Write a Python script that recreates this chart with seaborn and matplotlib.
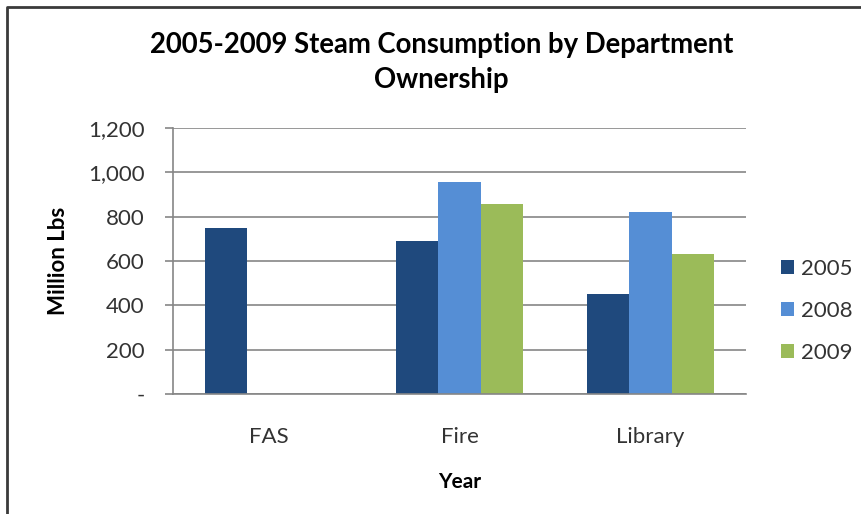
import matplotlib
matplotlib.use("Agg")
import matplotlib.pyplot as plt
from matplotlib.patches import Patch
from matplotlib.lines import Line2D
from matplotlib.ticker import FuncFormatter
import seaborn as sns
import pandas as pd

# Steam consumption (million lbs) by department and year
departments = ["FAS", "Fire", "Library"]
years = ["2005", "2008", "2009"]
consumption_2005 = [750, 690, 450]
consumption_2008 = [None, 955, 820]
consumption_2009 = [None, 855, 630]
colors = ["#1F497D", "#558ED5", "#9BBB59"]

rows = []
for year, series in zip(years, [consumption_2005, consumption_2008, consumption_2009]):
    for dept, val in zip(departments, series):
        if val is not None:
            rows.append({"Department": dept, "Year": year, "Value": val})
df = pd.DataFrame(rows)

sns.set_theme(style="white")
plt.rcParams["font.family"] = ["Lato", "DejaVu Sans"]

W, H = 862, 514
fig = plt.figure(figsize=(W / 100, H / 100), dpi=100)
ax = fig.add_axes([173.3 / W, 1 - 394 / H, (745.7 - 173.3) / W, (394 - 128) / H])

sns.barplot(data=df, x="Department", y="Value", hue="Year",
            order=departments, hue_order=years, palette=colors,
            width=0.667, gap=0, saturation=1, errorbar=None,
            linewidth=0, legend=False, ax=ax)

grey = "#868686"
text_col = "#333333"
ax.set_ylim(0, 1200)
ax.set_xlim(-0.5, 2.5)
ax.set_yticks(range(0, 1201, 200))
ax.yaxis.set_major_formatter(FuncFormatter(lambda v, p: "-" if v == 0 else f"{int(v):,}"))
ax.yaxis.grid(True, color=grey, lw=1.2)
ax.set_axisbelow(True)

for s in ["top", "right"]:
    ax.spines[s].set_visible(False)
for s in ["left", "bottom"]:
    ax.spines[s].set_color(grey)
    ax.spines[s].set_linewidth(1.2)

ax.set_xticks([0, 1, 2])
ax.set_xticks([-0.5, 0.5, 1.5, 2.5], minor=True)
ax.tick_params(axis="x", which="major", length=0, pad=24, labelsize=16, labelcolor=text_col)
ax.tick_params(axis="x", which="minor", length=5.5, width=1.2, color=grey, direction="out")
ax.tick_params(axis="y", which="major", length=5.5, width=1.2, color=grey, direction="out",
               pad=15, labelsize=16, labelcolor=text_col, left=True)

ax.set_xlabel("Year", fontsize=15, fontweight="bold", labelpad=18, color="black")
ax.set_ylabel("Million Lbs", fontsize=16, fontweight="bold", labelpad=14, color="black")

fig.text(441.5 / W, 1 - 45 / H, "2005-2009 Steam Consumption by Department",
         ha="center", va="center", fontsize=19.8, fontweight="bold", color="black")
fig.text(441.5 / W, 1 - 80 / H, "Ownership",
         ha="center", va="center", fontsize=19.8, fontweight="bold", color="black")

handles = [Patch(facecolor=c, edgecolor="none") for c in colors]
fig.legend(handles, years, loc="center left", bbox_to_anchor=(781 / W, 1 - 311 / H),
           frameon=False, fontsize=16, prop={"size": 16}, handlelength=0.6, handleheight=0.6,
           handletextpad=0.3, labelspacing=1.0, borderpad=0, borderaxespad=0,
           labelcolor=text_col)

# chart frame edge visible along the top and left
fig.add_artist(Line2D([7 / W, 7 / W, 1.0], [0.0, 1 - 7 / H, 1 - 7 / H],
                      transform=fig.transFigure, color="#3a3a3a", lw=2))

fig.savefig("out.png", dpi=100)
